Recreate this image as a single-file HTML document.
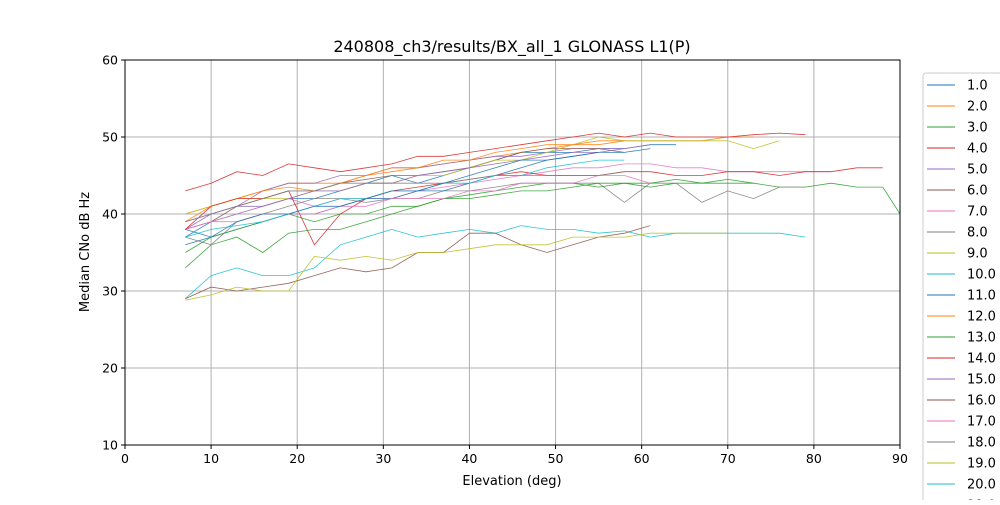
<!DOCTYPE html>
<html><head><meta charset="utf-8"><style>
body{margin:0;background:#fff;font-family:"Liberation Sans","DejaVu Sans",sans-serif}
svg text{font-family:"DejaVu Sans","Liberation Sans",sans-serif;fill:#000}
</style></head><body>
<svg id="chart" width="1000" height="500" xmlns="http://www.w3.org/2000/svg">
<rect width="1000" height="500" fill="#fff"/>
<g id="grid"></g><g id="series"></g><g id="axes"></g><g id="legend"></g>
<text x="512" y="52" text-anchor="middle" font-size="16">240808_ch3/results/BX_all_1 GLONASS L1(P)</text>
<text x="512" y="485" text-anchor="middle" font-size="13">Elevation (deg)</text>
<text transform="translate(89,252) rotate(-90)" text-anchor="middle" font-size="13">Median CNo dB Hz</text>
</svg>
<script>
const xTicks=[0,10,20,30,40,50,60,70,80,90];
const yTicks=[10,20,30,40,50,60];
const startElev=7, stepElev=3;
const seriesNames=["1.0","2.0","3.0","4.0","5.0","6.0","7.0","8.0","9.0","10.0","11.0","12.0","13.0","14.0","15.0","16.0","17.0","18.0","19.0","20.0","21.0"];
const s1=[37,39,40,41,42,42,43,44,45,44,45,46,47,48,48,48,48.5,48.5,49,49];
const s2=[40,41,42,43,44,44,44,45,45.5,46,46.5,47,47.5,48,48.5,49,49.5,49.5,49.5,49.5,49.5,50,50];
const s3=[33,36,37,35,37.5,38,38,39,40,41,42,42.5,43,43.5,44,44,43.5,44,43.5,44,44,44,44,43.5,43.5,44,43.5,43.5,40];
const s4=[43,44,45.5,45,46.5,46,45.5,46,46.5,47.5,47.5,48,48.5,49,49.5,50,50.5,50,50.5,50,50,50,50.3,50.5,50.3];
const s5=[38,40,41,43,44,44,45,45,46,46,46.5,47,47.5,47.5,48,48.5,48.5,48.5,49];
const s6=[38,39,41,42,43,43,44,44.5,45,45,45.5,46,47,48,48.5,48.5,48.5,48];
const s7=[38,39,40,41,42,41,42,42,42,43,43.5,44,44.5,45,45.5,46,46,46.5,46.5,46,46,45.5,45.5,45.5,45.5,45.5];
const s8=[37,36,39,40,41,42,42,41.5,42,42,43,43,43.5,44,44,44,44,41.5,44,44,41.5,43,42,43.5,43.5];
const s9=[40,41,42,42,42,43,43,44,44,45,45,46,47,47,48,49,50,49.5,49.5,49.5,49.5,49.5,48.5,49.5];
const s10=[29,32,33,32,32,33,36,37,38,37,37.5,38,37.5,38.5,38,38,37.5,37.8,37,37.5,37.5,37.5,37.5,37.5,37];
const s11=[36,37,38,39,40,40,41,42,42,43,43,44,45,46,47,47.5,48,48,48.5];
const s12=[39,41,42,43,43.5,43,44,45,46,46,47,47,48,48.5,49,49,49,49.5];
const s13=[35,37,38,39,40,39,40,40,41,41,42,42,42.5,43,43,43.5,44,44,44,44.5,44,44.5,44];
const s14=[38,41,42,42,43,36,40,42,43,43.5,44,44.5,45,45.5,45,45,45,45.5,45.5,45,45,45.5,45.5,45,45.5,45.5,46,46];
const s15=[39,40,41,41,42,43,43,44,44,45,45.5,46,46.5,47,47.5,48,48,48.5];
const s16=[29,30.5,30,30.5,31,32,33,32.5,33,35,35,37.5,37.5,36,35,36,37,37.5,38.5];
const s17=[38,39,39,40,40,40,41,41,42,42,42,43,43,44,44,44,45,45,44];
const s18=[39,40,41,42,43,43,44,44,44,44,44,44.5,45,45,45,45,45,45.5];
const s19=[28.8,29.5,30.5,30,30,34.5,34,34.5,34,35,35,35.5,36,36,36,37,37,37,37.5,37.5,37.5,37.5];
const s20=[37,38,38.5,39,40,41,42,42,43,43,44,44,45,45,46,46.5,47,47];
const s21=[38,37,39,40,40,41,41,42,43,43,44,45,46,47,47,47.5,48];
const allSeries=[s1,s2,s3,s4,s5,s6,s7,s8,s9,s10,s11,s12,s13,s14,s15,s16,s17,s18,s19,s20,s21];
const colors=["#1f77b4","#ff7f0e","#2ca02c","#d62728","#9467bd","#8c564b","#e377c2","#7f7f7f","#bcbd22","#17becf"];
const X0=125,X1=900,Y0=445,Y1=60;
const xs=v=>X0+(v-0)/90*(X1-X0);
const ys=v=>Y0-(v-10)/50*(Y0-Y1);
const NS="http://www.w3.org/2000/svg";
function mk(t,a,p){const e=document.createElementNS(NS,t);for(const k in a)e.setAttribute(k,a[k]);p.appendChild(e);return e;}
const grid=document.getElementById('grid'),axes=document.getElementById('axes'),ser=document.getElementById('series'),leg=document.getElementById('legend');
xTicks.forEach(t=>{const x=xs(t);
 const g=mk('line',{x1:x,x2:x,y1:Y1,y2:Y0,stroke:'#b0b0b0','stroke-width':1},grid);
 
 
 mk('line',{x1:x,x2:x,y1:Y0,y2:Y0+4,stroke:'#000'},axes);
 const l=mk('text',{x:x,y:Y0+18,'text-anchor':'middle','font-size':12.5},axes);l.textContent=t;
 
 
});
yTicks.forEach(t=>{const y=ys(t);
 const g=mk('line',{x1:X0,x2:X1,y1:y,y2:y,stroke:'#b0b0b0','stroke-width':1},grid);
 
 
 mk('line',{x1:X0-4,x2:X0,y1:y,y2:y,stroke:'#000'},axes);
 const l=mk('text',{x:X0-7,y:y+4.5,'text-anchor':'end','font-size':12.5},axes);l.textContent=t;
 
 
});
const fr=mk('rect',{x:X0,y:Y1,width:X1-X0,height:Y0-Y1,fill:'none',stroke:'#000','stroke-width':1},axes);


allSeries.forEach((s,i)=>{
 const pts=s.map((v,j)=>xs(Math.min(90,startElev+j*stepElev)).toFixed(1)+','+ys(v).toFixed(1)).join(' ');
 const p=mk('polyline',{points:pts,fill:'none',stroke:colors[i%10],'stroke-width':0.8,opacity:0.9},ser);
 
 
});
const lb=mk('rect',{x:923,y:73,width:90,height:440,fill:'#fff',stroke:'#ccc',rx:3},leg);


seriesNames.forEach((n,i)=>{const y=85+i*21;
 const g=mk('g',{},leg);
 
 
 mk('line',{x1:927,x2:955,y1:y,y2:y,stroke:colors[i%10],'stroke-width':1},g);
 const t=mk('text',{x:967,y:y+4.5,'font-size':13},g);t.textContent=n;
});
</script>
</body></html>
